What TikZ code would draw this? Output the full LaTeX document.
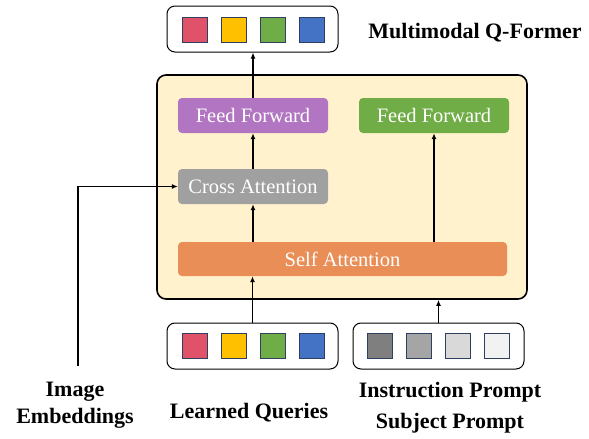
\documentclass[tikz,border=0pt]{standalone}
\usepackage{fontspec}
\setmainfont{Liberation Serif}
\usepackage{xcolor}
\usepackage{tikz}
\usetikzlibrary{arrows.meta, positioning, calc}
\definecolor{QFYellow}{RGB}{255, 242, 204}
\definecolor{QFPurple}{RGB}{177, 117, 193}
\definecolor{QFGreen}{RGB}{112, 173, 71}
\definecolor{QFGrey}{RGB}{160, 160, 160}
\definecolor{QFOrange}{RGB}{233, 142, 86}
\definecolor{QFRed}{RGB}{224, 82, 106}
\definecolor{QFGold}{RGB}{255, 192, 0}
\definecolor{QFBlue}{RGB}{68, 114, 196}
\definecolor{QFNavy}{RGB}{47, 63, 95}
\definecolor{QFGreyA}{RGB}{127, 127, 127}
\definecolor{QFGreyB}{RGB}{165, 165, 165}
\definecolor{QFGreyC}{RGB}{217, 217, 217}
\definecolor{QFGreyD}{RGB}{242, 242, 242}

\tikzset{
  layer/.style={rectangle, rounded corners=4pt, text=white, inner sep=0pt,
    minimum height=35pt, font=\fontsize{20.5}{24}\selectfont},
  tokenbox/.style={rectangle, draw=black, line width=1pt, rounded corners=8pt,
    minimum width=171pt, minimum height=46pt},
  token/.style={rectangle, draw=QFNavy, line width=1pt, minimum size=25pt, inner sep=0pt},
  caption/.style={align=center, font=\fontsize{22}{27}\selectfont\bfseries},
  arr/.style={line width=1.8pt, -{Latex[length=6pt,width=5pt]}}
}

\begin{document}
\begin{tikzpicture}[x=1pt,y=-1pt]
  \path[use as bounding box] (0,0) rectangle (589,439);

  % Q-Former block
  \node[rectangle, draw=black, line width=1.6pt, rounded corners=9pt, fill=QFYellow,
        minimum width=370pt, minimum height=224pt] (former) at (342,187) {};
  \node[layer, fill=QFPurple, minimum width=150pt] (ffq) at (253,115.5) {Feed Forward};
  \node[layer, fill=QFGreen, minimum width=150pt] (fft) at (434,115.5) {Feed Forward};
  \node[layer, fill=QFGrey, minimum width=150pt] (cross) at (253,186.5) {Cross Attention};
  \node[layer, fill=QFOrange, minimum width=329pt, minimum height=34pt] (self) at (342.5,259) {Self Attention};

  % token groups
  \node[tokenbox] (outq) at (252.5,29) {};
  \node[tokenbox] (learned) at (252.5,346) {};
  \node[tokenbox] (prompt) at (438.5,346) {};
  \foreach \c [count=\i from 0] in {QFRed, QFGold, QFGreen, QFBlue} {
    \node[token, fill=\c] (out\i) at ({194.5+39*\i},29.5) {};
    \node[token, fill=\c] (lq\i) at ({194.5+39*\i},346) {};
  }
  \foreach \c [count=\i from 0] in {QFGreyA, QFGreyB, QFGreyC, QFGreyD}
    \node[token, fill=\c] (pr\i) at ({380+39*\i},346) {};

  % connectors
  \coordinate (emb) at (78,366);
  \draw[arr] (learned.north) -- (self.south -| learned.north);
  \draw[arr] (prompt.north) -- (prompt.north |- former.south);
  \draw[arr] (self.north -| cross.south) -- (cross.south);
  \draw[arr] (cross.north) -- (ffq.south);
  \draw[arr] (ffq.north) -- (outq.south -| ffq.north);
  \draw[arr] (self.north -| fft.south) -- (fft.south);
  \draw[arr] (emb) |- (cross.west);

  % labels
  \node[caption] (title) at (475,33) {Multimodal Q-Former};
  \node[caption, font=\fontsize{22}{27}\selectfont\bfseries] (imglabel) at (75,405) {Image\\Embeddings};
  \node[caption] (lqlabel) at (249,413) {Learned Queries};
  \node[caption, font=\fontsize{22}{31}\selectfont\bfseries] (prlabel) at (450,408) {Instruction Prompt\\Subject Prompt};
\end{tikzpicture}
\end{document}
